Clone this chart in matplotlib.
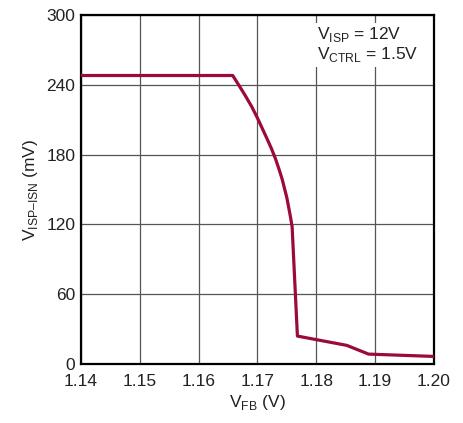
import matplotlib.pyplot as plt

# V_FB (V) vs V_ISP-ISN (mV)
vfb = [1.14, 1.1658, 1.1668, 1.1679, 1.1690, 1.1700, 1.1716, 1.1724, 1.1731,
       1.1737, 1.1742, 1.1750, 1.1756, 1.1759, 1.1768, 1.1810, 1.1852, 1.1889,
       1.2000]
visp_isn = [248, 248, 240, 231, 221.5, 211.5, 194, 185, 176,
            167, 159, 143, 127, 118, 24, 20, 16, 8.5,
            6.5]

x_ticks = [1.14, 1.15, 1.16, 1.17, 1.18, 1.19, 1.20]
y_ticks = [0, 60, 120, 180, 240, 300]

plt.rcParams["font.family"] = ["Liberation Sans", "DejaVu Sans"]
plt.rcParams["mathtext.fontset"] = "custom"
plt.rcParams["mathtext.rm"] = "Liberation Sans"

fig = plt.figure(figsize=(4.64, 4.23), dpi=100)
ax = fig.add_axes([0.1746, 0.1395, 0.935 - 0.1746, 0.9645 - 0.1395])

ax.plot(vfb, visp_isn, color="#9b0a3a", lw=2.3, solid_joinstyle="round", zorder=3)

ax.set_xlim(1.14, 1.20)
ax.set_ylim(0, 300)
ax.set_xticks(x_ticks)
ax.set_xticklabels([f"{t:.2f}" for t in x_ticks])
ax.set_yticks(y_ticks)
ax.grid(True, color="#555555", lw=0.9)
ax.tick_params(length=0, labelsize=12.5, colors="#222222")
ax.tick_params(axis="x", pad=7)
ax.tick_params(axis="y", pad=4)
for s in ax.spines.values():
    s.set_linewidth(1.6)

ax.set_xlabel(r"V$_{\mathregular{FB}}$ (V)", fontsize=12.5, color="#222222", labelpad=3)
ax.set_ylabel(r"V$_{\mathregular{ISP–ISN}}$ (mV)", fontsize=12.5, color="#222222", labelpad=5)

ax.text(0.67, 0.97, "V$_{\\mathregular{ISP}}$ = 12V\nV$_{\\mathregular{CTRL}}$ = 1.5V",
        transform=ax.transAxes, ha="left", va="top", fontsize=12.5, color="#222222",
        linespacing=1.05, zorder=4,
        bbox=dict(facecolor="white", edgecolor="none", pad=2))

fig.savefig("out.png", dpi=100)
